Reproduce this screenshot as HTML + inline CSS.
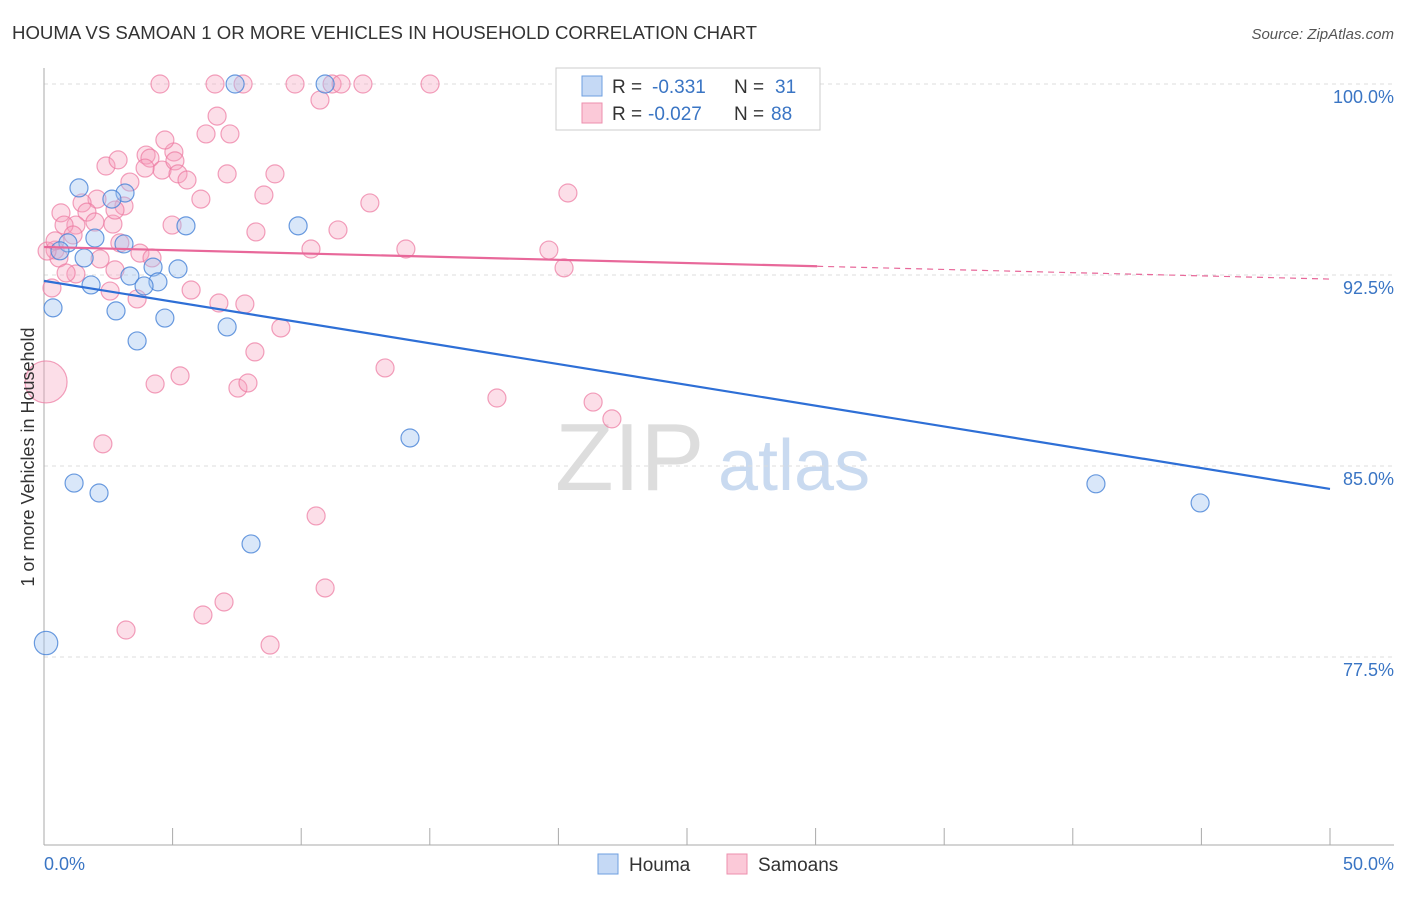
<!DOCTYPE html>
<html><head><meta charset="utf-8"><style>
body{margin:0;background:#fff;font-family:"Liberation Sans",sans-serif;}
svg text{font-family:"Liberation Sans",sans-serif;}
</style></head><body>
<svg id="chart" width="1406" height="892">
<text x="12" y="39" font-size="18" fill="#333" textLength="745" lengthAdjust="spacingAndGlyphs">HOUMA VS SAMOAN 1 OR MORE VEHICLES IN HOUSEHOLD CORRELATION CHART</text>
<text x="1394" y="39" font-size="15" fill="#555" text-anchor="end" font-style="italic">Source: ZipAtlas.com</text>
<text x="555" y="490" font-size="96" fill="#ddd" font-family="Liberation Serif">ZIP</text>
<text x="718" y="490" font-size="72" fill="#c9daf0">atlas</text>
<g id="grid"></g><g id="axes"></g><g id="pts"></g><g id="trend"></g>
<text transform="translate(34,457) rotate(-90)" font-size="18" fill="#333" text-anchor="middle">1 or more Vehicles in Household</text>
<text x="44" y="870" font-size="18" fill="#3a75c4">0.0%</text>
<text x="1394" y="870" font-size="18" fill="#3a75c4" text-anchor="end">50.0%</text>
<g>
<rect x="556" y="68" width="264" height="62" fill="#fff" stroke="#ccc"/>
<rect x="582" y="76" width="20" height="20" fill="#c5d9f5" stroke="#6e9fe0"/>
<rect x="582" y="103" width="20" height="20" fill="#fbc9d8" stroke="#ec8fae"/>
<text x="612" y="93" font-size="19" fill="#333">R =</text><text x="652" y="93" font-size="19" fill="#3a75c4">-0.331</text>
<text x="734" y="93" font-size="19" fill="#333">N =</text><text x="775" y="93" font-size="19" fill="#3a75c4">31</text>
<text x="612" y="120" font-size="19" fill="#333">R =</text><text x="648" y="120" font-size="19" fill="#3a75c4">-0.027</text>
<text x="734" y="120" font-size="19" fill="#333">N =</text><text x="771" y="120" font-size="19" fill="#3a75c4">88</text>
</g>
<g><rect x="598" y="854" width="20" height="20" fill="#c5d9f5" stroke="#6e9fe0"/><text x="629" y="871" font-size="19" fill="#333">Houma</text></g>
<g><rect x="727" y="854" width="20" height="20" fill="#fbc9d8" stroke="#ec8fae"/><text x="758" y="871" font-size="19" fill="#333">Samoans</text></g>
</svg>
<script>
const yTicks=[100,92.5,85,77.5];
const yTickLabels=["100.0%","92.5%","85.0%","77.5%"];
const houmaX=[7.43,10.93,1.36,3.15,2.64,5.52,9.88,1.98,0.93,3.11,0.62,1.56,4.24,5.21,3.34,1.83,4.43,3.89,0.35,2.80,4.70,7.12,3.62,14.23,1.17,2.14,8.05,0.08,40.90,44.95];
const houmaY=[100,100,95.92,95.72,95.48,94.43,94.43,93.95,93.76,93.72,93.45,93.17,92.81,92.74,92.46,92.11,92.23,92.07,91.21,91.09,90.81,90.46,89.91,86.10,84.33,83.94,81.94,78.05,84.30,83.55];
const houmaSize=[1,1,1,1,1,1,1,1,1,1,1,1,1,1,1,1,1,1,1,1,1,1,1,1,1,1,1,1.3,1,1];
const samX=[4.51,6.65,7.74,9.76,11.20,11.55,12.40,15.01,10.73,6.73,6.30,7.23,3.97,2.41,2.88,4.12,5.05,4.59,5.09,5.21,3.34,5.56,7.12,8.98,6.10,8.55,12.67,20.37,2.06,1.48,0.66,1.67,3.11,1.24,0.78,1.98,4.98,8.24,11.43,1.13,2.68,2.95,0.43,3.73,4.20,2.18,0.58,0.12,10.38,14.07,19.63,20.22,2.76,1.24,0.86,0.31,2.57,5.72,3.62,6.80,7.81,9.21,8.20,13.26,4.32,5.29,7.54,7.93,17.61,21.35,22.08,2.29,10.58,10.93,7.00,6.18,3.19,8.79,0.08,0.43,2.76,3.93,4.70];
const samY=[100,100,100,100,100,100,100,100,99.37,98.74,98.04,98.04,97.21,96.78,97.02,97.09,97.33,96.62,96.98,96.47,96.15,96.23,96.47,96.47,95.48,95.64,95.33,95.72,95.48,95.33,94.94,94.97,95.21,94.46,94.46,94.58,94.46,94.19,94.27,94.07,94.50,93.76,93.48,93.36,93.17,93.13,93.17,93.44,93.52,93.52,93.48,92.78,92.70,92.54,92.58,91.99,91.87,91.91,91.56,91.40,91.36,90.42,89.48,88.85,88.22,88.54,88.06,88.26,87.67,87.51,86.85,85.87,83.04,80.21,79.66,79.15,78.56,77.97,88.3,93.84,95.05,96.70,97.80];
const houmaTrend=[92.27,84.10];
const samTrend=[93.60,92.34];
const samSolidEnd=30.06;
const NS="http://www.w3.org/2000/svg";
const X=v=>44+v/50*1286;
const Y=v=>84+(100-v)/7.5*191;
function mk(tag,attrs,parent){const e=document.createElementNS(NS,tag);for(const k in attrs)e.setAttribute(k,attrs[k]);document.getElementById(parent).appendChild(e);return e;}
yTicks.forEach((t,i)=>{
  const l=mk('line',{x1:44,x2:1394,y1:Y(t),y2:Y(t),stroke:'#ddd','stroke-dasharray':'4,4'},'grid');
  
  
  const tx=mk('text',{x:1394,y:Y(t)+19,'font-size':18,fill:'#3a75c4','text-anchor':'end'},'grid');
  tx.textContent=yTickLabels[i];
  
  
});
let a=mk('line',{x1:44,x2:44,y1:68,y2:845,stroke:'#aaa'},'axes');


a=mk('line',{x1:44,x2:1394,y1:845,y2:845,stroke:'#aaa'},'axes');


for(let i=0;i<=10;i++){const t=mk('line',{x1:X(i*5),x2:X(i*5),y1:828,y2:845,stroke:'#aaa'},'axes');

}
samX.forEach((x,i)=>{const big=(samY[i]===88.3&&x<0.2);
  const c=mk('circle',{cx:X(x),cy:Y(samY[i]),r:big?21:9,fill:'rgba(246,160,188,0.35)',stroke:'rgba(236,120,160,0.7)','stroke-width':1.2},'pts');
  
  });
houmaX.forEach((x,i)=>{
  const c=mk('circle',{cx:X(x),cy:Y(houmaY[i]),r:9*houmaSize[i],fill:'rgba(160,195,240,0.4)',stroke:'rgba(70,130,215,0.8)','stroke-width':1.2},'pts');
  
  });
let l=mk('line',{x1:X(0),y1:Y(houmaTrend[0]),x2:X(50),y2:Y(houmaTrend[1]),stroke:'#2e6fd6','stroke-width':2.2},'trend');


const sy=v=>samTrend[0]+(samTrend[1]-samTrend[0])*v/50;
l=mk('line',{x1:X(0),y1:Y(sy(0)),x2:X(samSolidEnd),y2:Y(sy(samSolidEnd)),stroke:'#e8689a','stroke-width':2.2},'trend');


l=mk('line',{x1:X(samSolidEnd),y1:Y(sy(samSolidEnd)),x2:X(50),y2:Y(sy(50)),stroke:'#e8689a','stroke-width':1.2,'stroke-dasharray':'6,5'},'trend');


</script>
</body></html>
